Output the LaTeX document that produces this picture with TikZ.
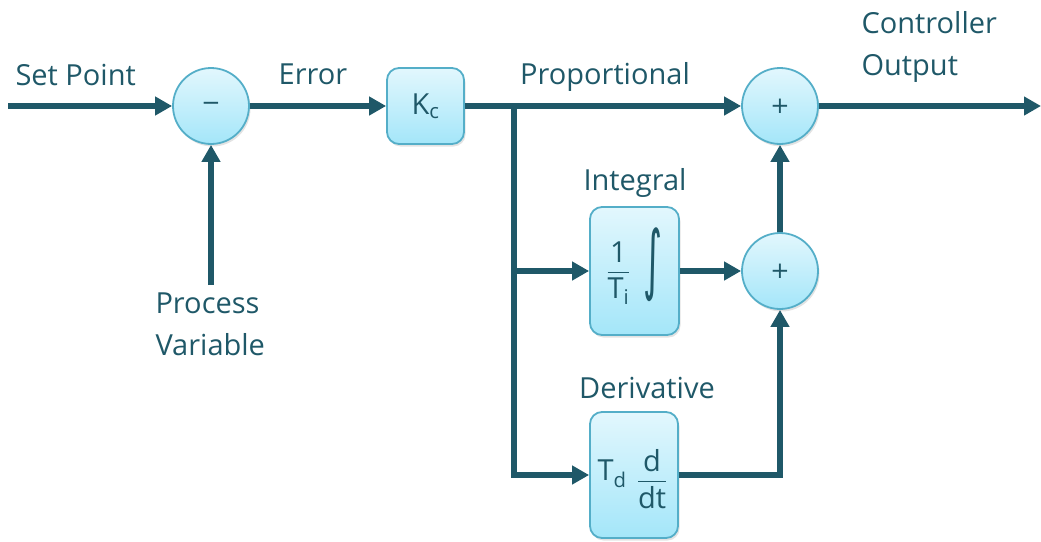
\documentclass[tikz,border=0pt]{standalone}
\usepackage{fontspec}
\setmainfont{Open Sans}
\newfontfamily\opfont{DejaVu Sans}
\usepackage{amsmath}
\usepackage{graphicx}
\usetikzlibrary{arrows.meta,shadows}

\definecolor{wire}{RGB}{31,88,104}
\definecolor{rim}{RGB}{84,174,200}
\definecolor{filltop}{RGB}{226,247,253}
\definecolor{fillbot}{RGB}{164,230,249}

\begin{document}
\begin{tikzpicture}[x=1pt,y=-1pt,
  every node/.style={text=wire, font=\fontsize{29}{35}\selectfont},
  softshadow/.style={drop shadow={opacity=0.22, shadow xshift=1.5pt, shadow yshift=-2.5pt}},
  blk/.style={draw=rim, line width=1.8pt, rounded corners=12pt,
    top color=filltop, bottom color=fillbot, softshadow, inner sep=0pt},
  sumnode/.style={circle, draw=rim, line width=1.8pt, minimum size=76pt,
    top color=filltop, bottom color=fillbot, softshadow, inner sep=0pt,
    font=\opfont\fontsize{23}{23}\selectfont},
  sig/.style={line width=5.5pt, draw=wire, -{Triangle[length=17pt,width=18pt]}},
  lbl/.style={anchor=base},
  lblw/.style={anchor=base west}]

\useasboundingbox (0,0) rectangle (1041,541);

% summing junctions and blocks
\node[sumnode] (sum1) at (211,106) {−};
\node[blk, minimum width=77pt, minimum height=76pt] (kc) at (425.5,106) {K\textsubscript{c}};
\node[sumnode] (sum3) at (780,106) {+};
\node[sumnode] (sum2) at (780,271) {+};
\node[blk, minimum width=89pt, minimum height=128pt] (int) at (634.5,271) {};
\node[blk, minimum width=88pt, minimum height=126pt] (der) at (634,475) {};

% integral block contents
\node (intfrac) at (618.5,273) {$\genfrac{}{}{1.4pt}{0}{\mbox{1}}{\mbox{T\textsubscript{i}}}$};
\node[inner sep=0pt] (intsign) at (653,265) {\resizebox*{19pt}{74pt}{\opfont ∫}};

% derivative block contents
\node (tdlbl) at (612,474) {T\textsubscript{d}};
\node (ddt) at (652,479) {$\genfrac{}{}{1.4pt}{0}{\mbox{d}}{\mbox{dt}}$};

% free ends and branch points
\coordinate (sp) at (8,106);
\coordinate (pv) at (211,285);
\coordinate (out) at (1041,106);
\coordinate (br) at (514,106);
\coordinate (bi) at (514,271);

% signal paths
\draw[sig] (sp) -- (sum1.west);
\draw[sig] (pv) -- (sum1.south);
\draw[sig] (sum1.east) -- (kc.west);
\draw[sig] (kc.east) -- (sum3.west);
\draw[sig] (sum3.east) -- (out);
\draw[sig] (br) |- (der.west);
\draw[sig] (bi) -- (int.west);
\draw[sig] (int.east) -- (sum2.west);
\draw[sig] (der.east) -| (sum2.south);
\draw[sig] (sum2.north) -- (sum3.south);

% labels
\node[lblw] (setpt) at (12,85) {Set Point};
\node[lbl] (errlbl) at (313,84) {Error};
\node[lbl] (proplbl) at (605,84) {Proportional};
\node[lblw] (co1) at (858,33) {Controller};
\node[lblw] (co2) at (858,75) {Output};
\node[lblw] (pv1) at (152,313) {Process};
\node[lblw] (pv2) at (152,355) {Variable};
\node[lbl] (intlbl) at (635,190) {Integral};
\node[lbl] (derlbl) at (647,398) {Derivative};

\end{tikzpicture}
\end{document}
